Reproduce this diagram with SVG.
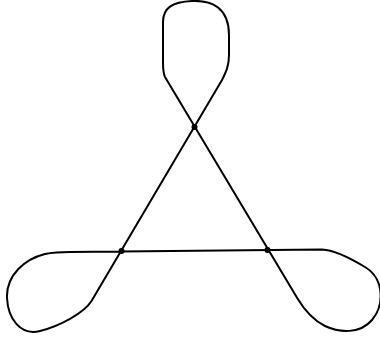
<svg xmlns="http://www.w3.org/2000/svg" width="380" height="337" viewBox="0 0 380 337">
<style>
.curve{fill:none;stroke:#000;stroke-width:2;stroke-linejoin:round;stroke-linecap:round}
.dot{fill:#000}
</style>
<rect width="380" height="337" fill="#fff"/>
<g id="connectors">
<path class="curve" d="M222,80 L91.5,301 C84,313 60,326 40,331 C20,336 8,318 7,298 C6,275 25,259 45,254 C55,252 60,252 70,252 L322,249.5 C335,250 350,258 365,267 C385,279 384,306 372,320 C360,334 340,333 325,326 C313,320 305,311 297.5,298.5 L165,77 C163,73 163,68 163,62 L163,22 C163,8 172,2 192,1 C212,0 229,8 229,35 L229,55 C229,66 226,72 222,80 Z"/>
</g>
<g id="n-top"><circle class="dot" cx="194.5" cy="127" r="3"/></g>
<g id="n-left"><circle class="dot" cx="121.5" cy="251" r="3"/></g>
<g id="n-right"><circle class="dot" cx="267.5" cy="250" r="3"/></g>
</svg>
